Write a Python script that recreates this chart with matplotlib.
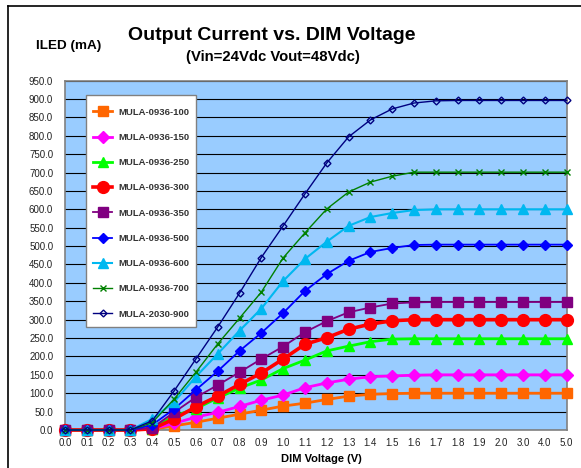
import matplotlib
matplotlib.use("Agg")
import matplotlib.pyplot as plt
from matplotlib.lines import Line2D
from matplotlib.patches import Rectangle

plt.rcParams["font.family"] = ["Liberation Sans", "DejaVu Sans"]

voltages = ["0.0", "0.1", "0.2", "0.3", "0.4", "0.5", "0.6", "0.7", "0.8", "0.9",
            "1.0", "1.1", "1.2", "1.3", "1.4", "1.5", "1.6", "1.7", "1.8", "1.9",
            "2.0", "3.0", "4.0", "5.0"]

mula_100 = [0, 0, 0, 0, 2, 11, 21, 32, 43, 54, 65, 73, 83, 92, 97, 99, 100, 100, 100, 100, 100, 100, 100, 100]
mula_150 = [0, 0, 0, 0, 3, 18, 35, 48, 64, 81, 95, 115, 128, 138, 145, 147, 149, 150, 150, 150, 150, 150, 150, 150]
mula_250 = [0, 0, 0, 0, 4, 38, 58, 87, 114, 136, 167, 190, 215, 228, 240, 247, 248, 248, 248, 248, 248, 248, 248, 248]
mula_300 = [0, 0, 0, 0, 3, 30, 63, 92, 124, 155, 193, 233, 251, 274, 288, 297, 300, 300, 300, 300, 300, 300, 300, 300]
mula_350 = [0, 0, 0, 0, 6, 48, 89, 122, 157, 193, 227, 266, 296, 320, 333, 344, 347, 348, 348, 348, 348, 348, 348, 348]
mula_500 = [0, 0, 0, 0, 14, 57, 109, 160, 215, 264, 318, 378, 424, 460, 484, 495, 503, 504, 504, 504, 504, 504, 504, 504]
mula_600 = [0, 0, 0, 0, 30, 76, 145, 207, 270, 330, 405, 465, 512, 555, 579, 590, 598, 600, 600, 600, 600, 600, 600, 600]
mula_700 = [0, 0, 0, 0, 20, 84, 157, 234, 304, 375, 468, 536, 601, 647, 674, 690, 701, 701, 701, 701, 701, 701, 701, 701]
mula_900 = [0, 0, 0, 0, 25, 106, 193, 280, 372, 469, 555, 642, 726, 797, 843, 873, 889, 895, 896, 896, 896, 896, 896, 896]

series = [
    ("MULA-0936-100", mula_100, "#FF6600", "s", 7, 2.0, "#FF6600"),
    ("MULA-0936-150", mula_150, "#FF00FF", "D", 6, 2.0, "#FF00FF"),
    ("MULA-0936-250", mula_250, "#00FF00", "^", 7.5, 2.0, "#00FF00"),
    ("MULA-0936-300", mula_300, "#FF0000", "o", 8.5, 2.6, "#FF0000"),
    ("MULA-0936-350", mula_350, "#800080", "s", 7, 1.3, "#800080"),
    ("MULA-0936-500", mula_500, "#0000FF", "D", 5, 1.3, "#0000FF"),
    ("MULA-0936-600", mula_600, "#00B8F0", "^", 7.5, 1.5, "#00B8F0"),
    ("MULA-0936-700", mula_700, "#008000", "x", 4, 1.0, "#008000"),
    ("MULA-2030-900", mula_900, "#000080", "D", 3.5, 1.0, "none"),
]

W, H = 581, 468
fig = plt.figure(figsize=(5.81, 4.68), dpi=100)
ax = fig.add_axes([65 / W, 1 - 430 / H, 501.7 / W, 349.4 / H])
ax.set_facecolor("#99CCFF")

x = list(range(len(voltages)))
for name, vals, color, marker, ms, lw, mfc in series:
    ax.plot(x, vals, color=color, lw=lw, marker=marker, markersize=ms,
            markerfacecolor=mfc, markeredgecolor=color, markeredgewidth=1.0,
            label=name, clip_on=False, zorder=3)

ax.set_xlim(0, len(voltages) - 1)
ax.set_ylim(0, 950)
ax.set_yticks(range(0, 951, 50))
ax.set_yticklabels([f"{v:.1f}" for v in range(0, 951, 50)])
ax.set_xticks(x)
ax.set_xticklabels(voltages)
ax.tick_params(axis="both", length=0, labelsize=7, colors="#222222")
ax.tick_params(axis="y", pad=8.5)
ax.tick_params(axis="x", pad=6)
ax.grid(axis="y", color="black", lw=0.8, zorder=1)
ax.set_axisbelow(True)
for sp in ax.spines.values():
    sp.set_color("#808080")
    sp.set_linewidth(1.2)

ax.set_xlabel("DIM Voltage (V)", fontsize=8, fontweight="bold", labelpad=4)
ax.xaxis.set_label_coords((321 - 65) / 501.7, -(459 - 430) / 349.4)
ax.xaxis.label.set_va("center")

# legend box drawn by hand so the padding matches
box = Rectangle((86 / W, 1 - 327 / H), 110 / W, 232 / H, transform=fig.transFigure,
                facecolor="white", edgecolor="#808080", lw=1.0, zorder=4, clip_on=False)
ax.add_patch(box)
leg = ax.legend(loc="upper left", bbox_to_anchor=((86 - 65) / 501.7, (430 - 101) / 349.4),
                borderaxespad=0, prop={"size": 6.8, "weight": "bold"}, labelspacing=1.72,
                handlelength=2.1, handletextpad=0.6, borderpad=0.7, frameon=False)
leg.set_zorder(5)
for t in leg.get_texts():
    t.set_color("#333333")

fig.text(272 / W, 1 - 40 / H, "Output Current vs. DIM Voltage", ha="center", va="baseline",
         fontsize=14, fontweight="bold")
fig.text(273 / W, 1 - 61 / H, "(Vin=24Vdc Vout=48Vdc)", ha="center", va="baseline",
         fontsize=10.7, fontweight="bold")
fig.text(69 / W, 1 - 49 / H, "ILED (mA)", ha="center", va="baseline",
         fontsize=9.7, fontweight="bold")

fig.add_artist(Line2D([8 / W, 8 / W], [0, 1 - 6 / H], color="black", lw=1.2,
                      transform=fig.transFigure))
fig.add_artist(Line2D([8 / W, 1], [1 - 6 / H, 1 - 6 / H], color="black", lw=1.2,
                      transform=fig.transFigure))

fig.savefig("out.png", dpi=100)
